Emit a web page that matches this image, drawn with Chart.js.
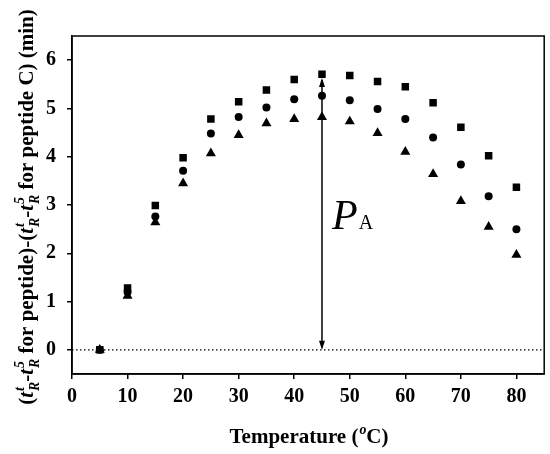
<!DOCTYPE html>
<html>
<head>
<meta charset="utf-8">
<script src="https://cdn.jsdelivr.net/npm/chart.js@4.4.0/dist/chart.umd.min.js"></script>
<style>
  html, body { margin: 0; padding: 0; background: #fff; }
  #wrap { width: 550px; height: 454px; }
</style>
</head>
<body>
<div id="wrap"><canvas id="grafico" width="550" height="454"></canvas></div>
<script>
// Dados
const temperaturas = [5, 10, 15, 20, 25, 30, 35, 40, 45, 50, 55, 60, 65, 70, 75, 80];
const serieQuadrado = [0, 1.28, 2.99, 3.98, 4.78, 5.14, 5.38, 5.60, 5.71, 5.68, 5.56, 5.45, 5.12, 4.61, 4.02, 3.37];
const serieCirculo = [0, 1.20, 2.76, 3.71, 4.48, 4.82, 5.02, 5.19, 5.26, 5.17, 4.99, 4.78, 4.40, 3.84, 3.18, 2.50];
const serieTriangulo = [0, 1.12, 2.64, 3.45, 4.07, 4.45, 4.69, 4.78, 4.82, 4.73, 4.49, 4.10, 3.64, 3.08, 2.55, 1.97];
const ticksX = [0, 10, 20, 30, 40, 50, 60, 70, 80];
const ticksY = [0, 1, 2, 3, 4, 5, 6];

// seta P_A
const setaX = 45;
const setaTopo = 5.63;
const rotuloPA = { x: 46.8, y: 2.5 };

const fonteSerif = '"Liberation Serif", "Times New Roman", serif';

function pontos(valores) {
    return temperaturas.map((t, i) => ({ x: t, y: valores[i] }));
}

// desenha texto com sobrescrito/subscrito
function medirSegmentos(ctx, segs, fs) {
    let total = 0;
    segs.forEach(s => { total += larguraSeg(ctx, s, fs); });
    return total;
}
function fonteSeg(s, fs, escala) {
    return (s.italic ? 'italic ' : '') + 'bold ' + (fs * escala) + 'px ' + fonteSerif;
}
function larguraSeg(ctx, s, fs) {
    ctx.font = fonteSeg(s, fs, 1);
    let w = ctx.measureText(s.t).width;
    let extra = 0;
    if (s.sup || s.sub) {
        ctx.font = fonteSeg({ italic: true }, fs, 0.66);
        const a = s.sup ? ctx.measureText(s.sup).width : 0;
        const b = s.sub ? ctx.measureText(s.sub).width : 0;
        extra = Math.max(a, b) + 1;
    }
    return w + extra;
}
function desenharSegmentos(ctx, segs, fs, x0) {
    let x = x0;
    segs.forEach(s => {
        ctx.font = fonteSeg(s, fs, 1);
        ctx.fillText(s.t, x, 0);
        x += ctx.measureText(s.t).width;
        if (s.sup || s.sub) {
            ctx.font = fonteSeg({ italic: true }, fs, 0.66);
            let w = 0;
            if (s.sup) { ctx.fillText(s.sup, x + 1, -fs * 0.45); w = ctx.measureText(s.sup).width; }
            if (s.sub) { ctx.fillText(s.sub, x + 1, fs * 0.3); w = Math.max(w, ctx.measureText(s.sub).width); }
            x += w + 1;
        }
    });
}

const tituloY = [
    { t: '(' },
    { t: 't', italic: true, sup: 't', sub: 'R' },
    { t: '-' },
    { t: 't', italic: true, sup: '5', sub: 'R' },
    { t: ' for peptide)-(' },
    { t: 't', italic: true, sup: 't', sub: 'R' },
    { t: '-' },
    { t: 't', italic: true, sup: '5', sub: 'R' },
    { t: ' for peptide C) (min)' }
];
const tituloX = [
    { t: 'Temperature (', sup: 'o' },
    { t: 'C)' }
];

const pluginExtras = {
    id: 'extras',
    beforeDatasetsDraw(chart) {
        const { ctx, chartArea: a, scales } = chart;
        const y0 = scales.y.getPixelForValue(0);
        ctx.save();
        ctx.strokeStyle = '#000';
        ctx.lineWidth = 1.2;
        ctx.setLineDash([1.5, 2.5]);
        ctx.beginPath();
        ctx.moveTo(a.left, y0);
        ctx.lineTo(a.right, y0);
        ctx.stroke();
        ctx.restore();
    },
    afterDraw(chart) {
        const { ctx, chartArea: a, scales } = chart;
        ctx.save();
        // moldura
        ctx.strokeStyle = '#000';
        ctx.lineWidth = 1.5;
        ctx.strokeRect(a.left, a.top, a.right - a.left, a.bottom - a.top);

        // seta dupla
        const xs = scales.x.getPixelForValue(setaX);
        const yb = scales.y.getPixelForValue(0);
        const yt = scales.y.getPixelForValue(setaTopo);
        ctx.lineWidth = 1.5;
        ctx.beginPath();
        ctx.moveTo(xs, yt + 2);
        ctx.lineTo(xs, yb - 2);
        ctx.stroke();
        ctx.fillStyle = '#000';
        ctx.beginPath();
        ctx.moveTo(xs, yb); ctx.lineTo(xs - 3, yb - 9); ctx.lineTo(xs + 3, yb - 9); ctx.closePath();
        ctx.fill();
        ctx.beginPath();
        ctx.moveTo(xs, yt); ctx.lineTo(xs - 3, yt + 9); ctx.lineTo(xs + 3, yt + 9); ctx.closePath();
        ctx.fill();

        // rotulo P_A
        const px = scales.x.getPixelForValue(rotuloPA.x);
        const py = scales.y.getPixelForValue(rotuloPA.y);
        ctx.textBaseline = 'alphabetic';
        ctx.textAlign = 'left';
        ctx.font = 'italic 42px ' + fonteSerif;
        ctx.fillText('P', px, py);
        const wp = ctx.measureText('P').width;
        ctx.font = '20px ' + fonteSerif;
        ctx.fillText('A', px + wp + 1, py);

        // titulo eixo X
        const fsX = 21;
        const wX = medirSegmentos(ctx, tituloX, fsX);
        ctx.save();
        ctx.translate(309, 443);
        desenharSegmentos(ctx, tituloX, fsX, -wX / 2);
        ctx.restore();

        // titulo eixo Y
        const fsY = 21;
        const wY = medirSegmentos(ctx, tituloY, fsY);
        ctx.save();
        ctx.translate(33, 207);
        ctx.rotate(-Math.PI / 2);
        desenharSegmentos(ctx, tituloY, fsY, -wY / 2);
        ctx.restore();
        ctx.restore();
    }
};

const ctx = document.getElementById('grafico').getContext('2d');
const grafico = new Chart(ctx, {
    type: 'scatter',
    data: {
        datasets: [
            { label: 'quadrado', data: pontos(serieQuadrado), pointStyle: 'rect', pointRadius: 5.3, backgroundColor: '#000', borderColor: '#000', borderWidth: 0 },
            { label: 'circulo', data: pontos(serieCirculo), pointStyle: 'circle', pointRadius: 4, backgroundColor: '#000', borderColor: '#000', borderWidth: 0 },
            { label: 'triangulo', data: pontos(serieTriangulo), pointStyle: 'triangle', pointRadius: 5.8, backgroundColor: '#000', borderColor: '#000', borderWidth: 0 }
        ]
    },
    options: {
        responsive: false,
        animation: false,
        layout: { padding: { top: 36, right: 5, left: 0, bottom: 0 } },
        plugins: {
            legend: { display: false },
            tooltip: { enabled: false }
        },
        scales: {
            x: {
                type: 'linear',
                min: 0,
                max: 85,
                afterBuildTicks: s => { s.ticks = ticksX.map(v => ({ value: v })); },
                afterFit: s => { s.height = 80; },
                grid: { drawOnChartArea: false, drawTicks: true, tickLength: 5, color: '#000', lineWidth: 1.5 },
                border: { display: true, color: '#000', width: 1.5 },
                ticks: { color: '#000', padding: 6, maxRotation: 0, font: { family: fonteSerif, size: 20, weight: 'bold' } }
            },
            y: {
                min: -0.5,
                max: 6.5,
                afterBuildTicks: s => { s.ticks = ticksY.map(v => ({ value: v })); },
                afterFit: s => { s.width = 72; },
                grid: { drawOnChartArea: false, drawTicks: true, tickLength: 5, color: '#000', lineWidth: 1.5 },
                border: { display: true, color: '#000', width: 1.5 },
                ticks: { color: '#000', padding: 11, font: { family: fonteSerif, size: 20, weight: 'bold' } }
            }
        }
    },
    plugins: [pluginExtras]
});
</script>
</body>
</html>
